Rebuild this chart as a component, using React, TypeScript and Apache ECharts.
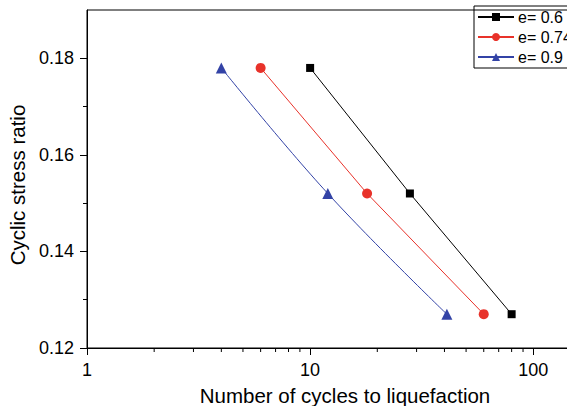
import React, { useEffect, useRef } from "react";
import * as echarts from "echarts";

const seriesNames = ["e= 0.6", "e= 0.74", "e= 0.9"];
const cycles06 = [10, 28, 80];
const cycles074 = [6, 18, 60];
const cycles09 = [4, 12, 41];
const csr = [0.178, 0.152, 0.127];
const yMajorTicks = [0.12, 0.14, 0.16, 0.18];
const yMinorTicks = [0.13, 0.15, 0.17];
const xMinorTicks = [2, 3, 4, 5, 6, 7, 8, 9, 20, 30, 40, 50, 60, 70, 80, 90];
const xMajorTicks = [1, 10, 100];

const FONT = "Liberation Sans, Arial, sans-serif";

export default function App() {
  const ref = useRef<HTMLDivElement>(null);
  useEffect(() => {
    document.body.style.margin = "0";
    document.body.style.overflow = "hidden";
    const chart = echarts.init(ref.current!, undefined, { renderer: "svg" });
    const pair = (xs: number[]) => xs.map((x, i) => [x, csr[i]]);
    const colors = ["#000000", "#E8322A", "#3343A6"];
    const symbols = ["rect", "circle", "triangle"];
    const sizes = [8, 10, 11];
    const data = [pair(cycles06), pair(cycles074), pair(cycles09)];
    chart.setOption({
      animation: false,
      textStyle: { fontFamily: FONT },
      grid: {
        left: 87,
        top: 10,
        right: 10,
        bottom: 58,
        show: true,
        borderColor: "#000",
        borderWidth: 1,
      },
      legend: {
        left: 474,
        top: 6,
        orient: "vertical",
        borderColor: "#000",
        borderWidth: 1,
        borderRadius: 0,
        padding: [3, 6, 3, 3],
        itemWidth: 36,
        itemHeight: 10,
        itemGap: 4,
        textStyle: { fontSize: 16, color: "#000", fontFamily: FONT, padding: [0, 0, 0, -1] },
        data: seriesNames,
      },
      xAxis: [
        {
          type: "log",
          logBase: 10,
          min: 1,
          max: 162,
          axisLine: { lineStyle: { color: "#000", width: 1 } },
          axisTick: { customValues: xMajorTicks, length: 7, lineStyle: { color: "#000" } },
          axisLabel: {
            customValues: xMajorTicks,
            color: "#000",
            fontSize: 18,
            margin: 13,
            fontFamily: FONT,
          },
          splitLine: { show: false },
        },
      ],
      yAxis: [
        {
          type: "value",
          min: 0.12,
          max: 0.19,
          interval: 0.02,
          axisLine: { show: true, lineStyle: { color: "#000", width: 1 } },
          axisTick: { show: true, customValues: yMajorTicks, length: 7, lineStyle: { color: "#000" } },
          axisLabel: {
            customValues: yMajorTicks,
            color: "#000",
            fontSize: 18,
            margin: 13,
            fontFamily: FONT,
            formatter: (v: number) => v.toFixed(2),
          },
          splitLine: { show: false },
        },
        {
          type: "value",
          min: 0.12,
          max: 0.19,
          position: "left",
          axisLine: { show: false },
          axisTick: { show: true, customValues: yMinorTicks, length: 4, lineStyle: { color: "#000" } },
          axisLabel: { show: false },
          splitLine: { show: false },
        },
      ],
      graphic: [
        {
          type: "text",
          x: 17,
          y: 185,
          rotation: Math.PI / 2,
          style: {
            text: "Cyclic stress ratio",
            fontSize: 20.5,
            fontFamily: FONT,
            fill: "#000",
            align: "center",
            verticalAlign: "middle",
          },
        },
        {
          type: "text",
          x: 345,
          y: 395,
          style: {
            text: "Number of cycles to liquefaction",
            fontSize: 20.5,
            fontFamily: FONT,
            fill: "#000",
            align: "center",
            verticalAlign: "middle",
          },
        },
      ],
      series: [
        ...seriesNames.map((name, i) => ({
          name,
          type: "line",
          xAxisIndex: 0,
          yAxisIndex: 0,
          data: data[i],
          symbol: symbols[i],
          symbolSize: sizes[i],
          smooth: i === 2 ? 0.4 : false,
          lineStyle: { color: colors[i], width: 1 },
          itemStyle: { color: colors[i] },
          z: 3,
        })),
        {
          type: "custom",
          name: "minorTicks",
          xAxisIndex: 0,
          yAxisIndex: 0,
          silent: true,
          clip: false,
          data: xMinorTicks.map((v) => [v, 0.12]),
          renderItem: (params: any, api: any) => {
            const p = api.coord([api.value(0), api.value(1)]);
            return {
              type: "line",
              shape: { x1: p[0], y1: p[1], x2: p[0], y2: p[1] + 4 },
              style: { stroke: "#000", lineWidth: 1 },
            };
          },
        },
      ],
    });
    return () => chart.dispose();
  }, []);
  return <div ref={ref} style={{ width: 590, height: 406 }} />;
}
